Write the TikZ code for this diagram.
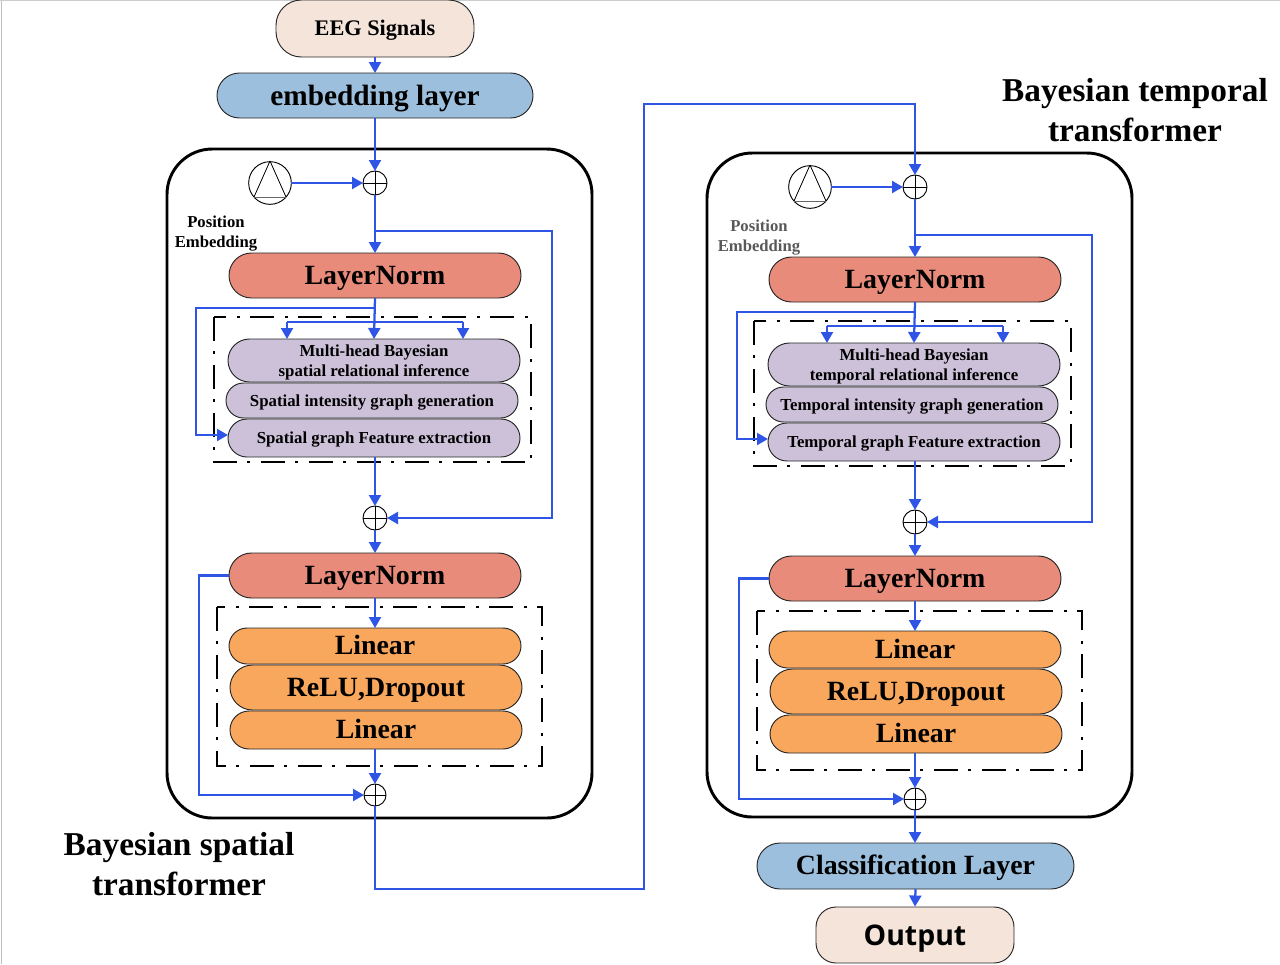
\documentclass[tikz,border=0pt]{standalone}
\usepackage{fontspec}
\setmainfont{Liberation Serif}
\newfontfamily\outfont{Open Sans}
\usetikzlibrary{shapes.misc,arrows.meta}
\definecolor{lnred}{HTML}{E88B7A}
\definecolor{purp}{HTML}{CCC1D9}
\definecolor{orng}{HTML}{F8A75D}
\definecolor{skyb}{HTML}{9CBFDD}
\definecolor{beig}{HTML}{F4E4DA}
\definecolor{wire}{HTML}{2F55E6}
\newcommand\lw[1]{\raisebox{-1.5pt}[\height][\depth]{#1}}
\newcommand\lwtwo[2]{\raisebox{-1.5pt}[\height][\depth]{\begin{tabular}{@{}c@{}}#1\\#2\end{tabular}}}
\tikzset{
  pillbase/.style={shape=rounded rectangle,draw=black!85,line width=.7pt,inner sep=0pt,outer sep=0pt,align=center,font=\bfseries},
  bigp/.style={pillbase,font=\fontsize{20.9}{24}\selectfont\bfseries,text height=16pt,text depth=3pt},
  smallp/.style={pillbase,fill=purp,font=\fontsize{12.6}{15}\selectfont\bfseries},
  normp/.style={bigp,fill=lnred},
  mlpp/.style={bigp,fill=orng},
  bluep/.style={bigp,fill=skyb},
  bigbox/.style={draw=black,line width=2.2pt,rounded corners=34pt},
  dashbox/.style={draw=black,line width=1.9pt,dash pattern=on 18pt off 7.5pt on 2.2pt off 8.3pt},
  plusn/.style={shape=circle,draw=black,line width=.7pt,minimum size=18pt,inner sep=0pt,outer sep=0pt,fill=white,
    path picture={\draw[black,line width=.7pt] (path picture bounding box.north)--(path picture bounding box.south)
      (path picture bounding box.west)--(path picture bounding box.east);}},
  pen/.style={shape=circle,draw=black,line width=.7pt,minimum size=32pt,inner sep=0pt,outer sep=0pt},
  wired/.style={draw=wire,line width=1.7pt,line join=miter},
  arr/.style={wired,-{Triangle[length=8.25pt,width=9pt]}},
  capt/.style={font=\fontsize{12.5}{14.6}\selectfont\bfseries,align=center,inner sep=0pt},
  headt/.style={font=\fontsize{25}{30}\selectfont\bfseries,align=center,inner sep=0pt},
}
\newcommand\pillx[6]{%
  \pgfmathsetmacro\pcx{(#3+#5)/2}\pgfmathsetmacro\pcy{(#4+#6)/2}%
  \pgfmathsetmacro\pw{(#5-#3)*0.75}\pgfmathsetmacro\ph{(#6-#4)*0.75}%
  \node[#1,minimum width=\pw pt,minimum height=\ph pt] (#2) at (\pcx,\pcy)}
\begin{document}
\begin{tikzpicture}[x=.75pt,y=-.75pt]
\useasboundingbox (0,0) rectangle (1280,964);
\draw[black!25,line width=.75pt] (1,0) -- (1,964);
\draw[black!20,line width=.5pt] (0,.5) -- (1280,.5);
% containers
\draw[bigbox] (167,149) rectangle (592,818);
\draw[bigbox] (707,153) rectangle (1132,817);
\draw[dashbox] (214,317) rectangle (531,462);
\draw[dashbox] (217,607) rectangle (542,766);
\draw[dashbox] (754,321) rectangle (1071,466);
\draw[dashbox] (757,611) rectangle (1082,770);
% top
\node[draw=black!85,line width=.7pt,fill=beig,rounded corners=19pt,minimum width=148.5pt,minimum height=42.75pt,inner sep=0pt,text height=13pt,text depth=2pt,font=\fontsize{16.7}{19}\selectfont\bfseries] (eeg) at (375,28.5) {EEG Signals};
\pillx{bluep,font=\fontsize{22}{26}\selectfont\bfseries,text height=18pt,text depth=3pt}{emb}{217}{73}{533}{118}{embedding layer};
% left column
\pillx{normp}{lna}{229}{253}{521}{298}{LayerNorm};
\pillx{smallp}{mha}{228}{339}{520}{382}{\lwtwo{Multi-head Bayesian}{spatial relational inference}};
\pillx{smallp}{sia}{226}{383}{518}{418}{\lw{Spatial intensity graph generation}};
\pillx{smallp}{sfa}{228}{419}{520}{457}{\lw{Spatial graph Feature extraction}};
\pillx{normp}{lnb}{229}{553}{521}{598}{LayerNorm};
\pillx{mlpp}{laa}{229}{628}{521}{664}{Linear};
\pillx{mlpp}{rda}{230}{665}{522}{710}{ReLU,Dropout};
\pillx{mlpp}{lba}{230}{711}{522}{749}{Linear};
\node[plusn] (pa) at (375,183) {};
\node[plusn] (pb) at (375,518) {};
\node[plusn,minimum size=16.5pt] (pc) at (375,795) {};
\node[pen] (ea) at (270,183) {};
\draw[black,line width=.6pt] (270,161) -- (254,197);
\draw[black,line width=.6pt] (270,161) -- (286,197);
\draw[black!60,line width=.6pt] (254,197) -- (286,197);
\node[capt] (ta) at (216,233.5) {Position\\Embedding};
\node[headt] (hl) at (179,864.5) {Bayesian spatial\\transformer};
% right column
\pillx{normp}{lnc}{769}{257}{1061}{302}{LayerNorm};
\pillx{smallp}{mhb}{768}{343}{1060}{386}{\lwtwo{Multi-head Bayesian}{temporal relational inference}};
\pillx{smallp}{sib}{766}{387}{1058}{422}{\lw{Temporal intensity graph generation}};
\pillx{smallp}{sfb}{768}{423}{1060}{461}{\lw{Temporal graph Feature extraction}};
\pillx{normp}{lnd}{769}{556}{1061}{601}{LayerNorm};
\pillx{mlpp}{lab}{769}{631}{1061}{668}{Linear};
\pillx{mlpp}{rdb}{770}{669}{1062}{714}{ReLU,Dropout};
\pillx{mlpp}{lbb}{770}{715}{1062}{753}{Linear};
\node[plusn] (pd) at (915,187) {};
\node[plusn] (pe2) at (915,522) {};
\node[plusn,minimum size=16.5pt] (pf) at (915,799) {};
\node[pen] (eb) at (810,187) {};
\draw[black,line width=.6pt] (810,165) -- (794,201);
\draw[black,line width=.6pt] (810,165) -- (826,201);
\draw[black!60,line width=.6pt] (794,201) -- (826,201);
\node[capt,text=black!65] (tb) at (759,237.5) {Position\\Embedding};
\node[headt] (hr) at (1135,110) {Bayesian temporal\\transformer};
\pillx{bluep}{cls}{757}{843}{1074}{889}{Classification Layer};
\node[draw=black!85,line width=.7pt,fill=beig,rounded corners=15pt,minimum width=148.5pt,minimum height=42pt,inner sep=0pt,text height=18pt,text depth=3pt,font=\outfont\fontsize{21.3}{26}\selectfont\bfseries] (out) at (915,935) {Output};
% helper coordinates
\coordinate (b1) at (552,231);
\coordinate (b2) at (196,308);
\coordinate (e1) at (196,435);
\coordinate (s1) at (287,322);
\coordinate (s2) at (463,322);
\coordinate (b3) at (199,575.5);
\coordinate (r1) at (644,889);
\coordinate (r2) at (644,104);
\coordinate (b4) at (1092,235);
\coordinate (b5) at (737,312);
\coordinate (e2) at (737,439);
\coordinate (s3) at (827,326);
\coordinate (s4) at (1003,326);
\coordinate (b6) at (739,578.5);
% left connectors
\draw[arr] (eeg.south) -- (emb.north);
\draw[arr] (emb.south) -- (pa.north);
\draw[arr] (ea.east) -- (pa.west);
\draw[arr] (pa.south) -- (lna.north);
\draw[arr] (pa|-b1) -- (b1) -- (b1|-pb) -- (pb.east);
\draw[arr] (lna.south) -- (mha.north);
\draw[arr] (lna.south|-b2) -- (b2) -- (e1) -- (e1-|sfa.west);
\draw[wired] (s1) -- (s2);
\draw[arr] (s1) -- (s1|-mha.north);
\draw[arr] (s2) -- (s2|-mha.north);
\draw[arr] (pb|-sfa.south) -- (pb.north);
\draw[arr] (pb.south) -- (pb|-lnb.north);
\draw[arr] (lnb.west) -- (b3) -- (b3|-pc) -- (pc.west);
\draw[arr] (pc|-lnb.south) -- (pc|-laa.north);
\draw[arr] (pc|-lba.south) -- (pc.north);
% link between the two transformers
\draw[arr] (pc.south) -- (pc|-r1) -- (r1) -- (r2) -- (pd|-r2) -- (pd.north);
% right connectors
\draw[arr] (eb.east) -- (pd.west);
\draw[arr] (pd.south) -- (pd|-lnc.north);
\draw[arr] (pd|-b4) -- (b4) -- (b4|-pe2) -- (pe2.east);
\draw[arr] (lnc.south) -- (mhb.north);
\draw[arr] (lnc.south|-b5) -- (b5) -- (e2) -- (e2-|sfb.west);
\draw[wired] (s3) -- (s4);
\draw[arr] (s3) -- (s3|-mhb.north);
\draw[arr] (s4) -- (s4|-mhb.north);
\draw[arr] (pe2|-sfb.south) -- (pe2.north);
\draw[arr] (pe2.south) -- (pe2|-lnd.north);
\draw[arr] (lnd.west) -- (b6) -- (b6|-pf) -- (pf.west);
\draw[arr] (pf|-lnd.south) -- (pf|-lab.north);
\draw[arr] (pf|-lbb.south) -- (pf.north);
\draw[arr] (pf.south) -- (pf|-cls.north);
\draw[arr] (cls.south) -- (out.north);
\end{tikzpicture}
\end{document}
